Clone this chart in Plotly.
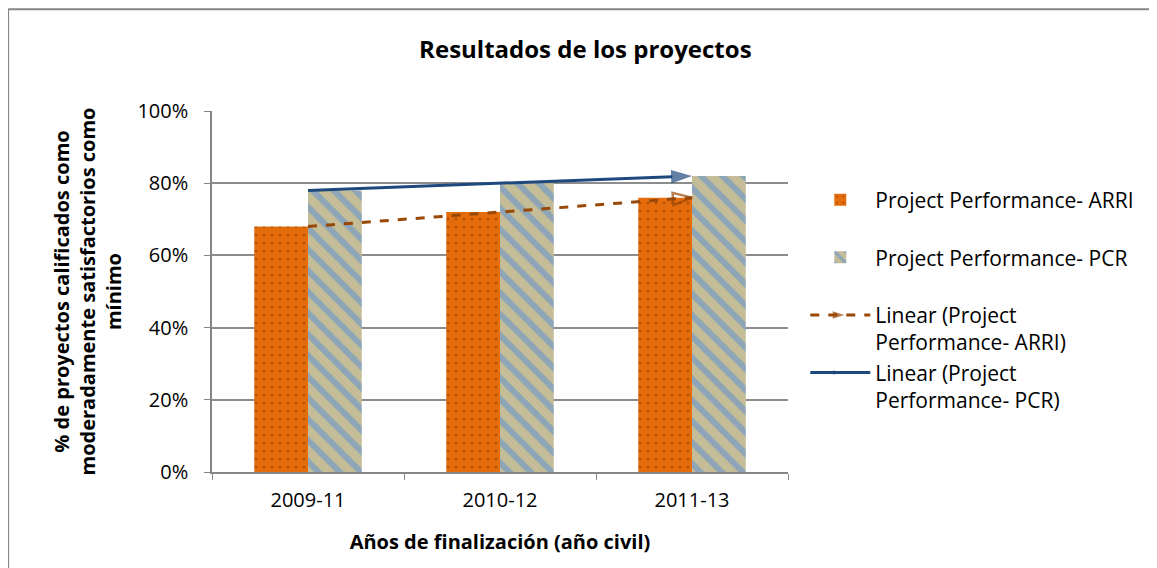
import numpy as np
import plotly.graph_objects as go

categories = ["2009-11", "2010-12", "2011-13"]
arri_values = [0.68, 0.72, 0.76]
pcr_values = [0.78, 0.80, 0.82]
y_ticks = [0, 0.2, 0.4, 0.6, 0.8, 1.0]
y_tick_labels = ["0%", "20%", "40%", "60%", "80%", "100%"]

FONT = "Open Sans"

def linear_trend(vals):
    x = np.arange(len(vals))
    k, b = np.polyfit(x, vals, 1)
    return list(k * x + b)

arri_trend = linear_trend(arri_values)
pcr_trend = linear_trend(pcr_values)

NBSP = "\u00a0"

fig = go.Figure()
fig.add_trace(go.Bar(
    x=categories, y=arri_values, name="Project Performance- ARRI<br>" + NBSP,
    marker=dict(color="#E46C0A", line=dict(width=0),
                pattern=dict(shape=".", fgcolor="#6b3200", bgcolor="#E46C0A",
                             size=8, solidity=0.08, fillmode="overlay")),
))
fig.add_trace(go.Bar(
    x=categories, y=pcr_values, name="Project Performance- PCR<br>" + NBSP,
    marker=dict(color="#C4BD97", line=dict(width=0),
                pattern=dict(shape="\\", fgcolor="#558ED5", bgcolor="#C4BD97",
                             size=15, solidity=0.4, fillmode="overlay")),
))
fig.add_trace(go.Scatter(
    x=categories, y=arri_trend, name="Linear (Project<br>Performance- ARRI)",
    mode="lines+markers",
    line=dict(color="#984807", width=3, dash="dash"),
    marker=dict(symbol="arrow-open", angleref="previous", size=[0, 0, 20],
                color="#984807", line=dict(color="#984807", width=2.5)),
))
fig.add_trace(go.Scatter(
    x=categories, y=pcr_trend, name="Linear (Project<br>Performance- PCR)",
    mode="lines+markers",
    line=dict(color="#1F497D", width=3),
    marker=dict(symbol="arrow", angleref="previous", size=[0, 0, 22],
                color="#1F497D", line=dict(width=0)),
))

# outer chart frame
fig.add_shape(type="rect", xref="paper", yref="paper",
              x0=-0.354, x1=1.75, y0=-0.4, y1=1.282,
              line=dict(color="#868686", width=2), fillcolor="rgba(0,0,0,0)",
              layer="below")

fig.update_layout(
    width=1157, height=568,
    margin=dict(l=204, r=377, t=103, b=104),
    paper_bgcolor="white", plot_bgcolor="white",
    font=dict(family=FONT, size=20, color="black"),
    barmode="group", bargap=0.44, bargroupgap=0,
    title=dict(text="<b>Resultados de los proyectos</b>", x=0.499, xanchor="center",
               y=0.927, yanchor="middle", font=dict(family=FONT, size=24)),
    showlegend=True,
    legend=dict(x=1.03, xanchor="left", y=0.81, yanchor="top", valign="top",
                itemwidth=60, traceorder="normal", font=dict(size=21),
                bgcolor="rgba(0,0,0,0)"),
    xaxis=dict(
        type="category", showline=True, linecolor="#868686", linewidth=1.5,
        ticks="outside", tickson="boundaries", ticklen=6, tickcolor="#868686",
        tickfont=dict(size=20), ticklabelstandoff=9,
        title=dict(text="<b>Años de finalización (año civil)</b>", font=dict(size=20), standoff=23),
    ),
    yaxis=dict(
        range=[0, 1.0], tickvals=y_ticks, ticktext=y_tick_labels,
        showline=True, linecolor="#868686", linewidth=1.5,
        ticks="outside", ticklen=6, tickcolor="#868686",
        showgrid=True, gridcolor="#8c8c8c", gridwidth=1.5, zeroline=False,
        tickfont=dict(size=20), ticklabelstandoff=12,
        title=dict(text="<b>% de proyectos calificados como<br>moderadamente satisfactorios como<br>mínimo</b>",
                   font=dict(size=20), standoff=10),
    ),
)

fig.write_html("out.html")
